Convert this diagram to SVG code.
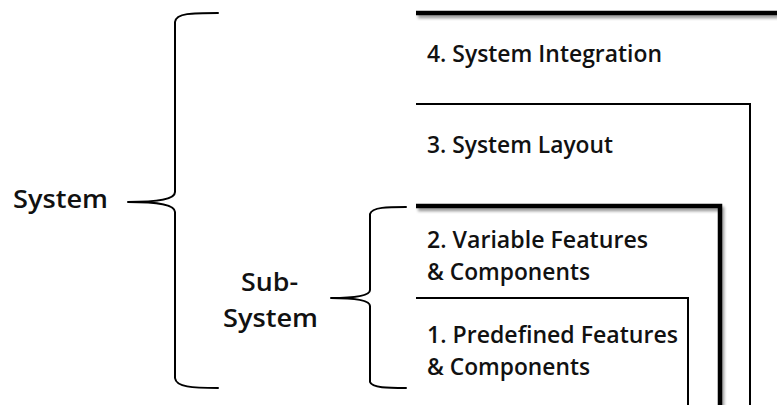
<svg xmlns="http://www.w3.org/2000/svg" width="777" height="405" viewBox="0 0 777 405">
  <defs>
    <filter id="softShadow" filterUnits="userSpaceOnUse" x="0" y="0" width="777" height="405">
      <feGaussianBlur in="SourceAlpha" stdDeviation="1.8"/>
      <feOffset dx="2" dy="3" result="blur"/>
      <feComponentTransfer><feFuncA type="linear" slope="0.4"/></feComponentTransfer>
      <feMerge><feMergeNode/><feMergeNode in="SourceGraphic"/></feMerge>
    </filter>
  </defs>
  <style>
    .lbl { font-family: "Open Sans", "Liberation Sans", sans-serif; font-weight: 600; font-size: 22.5px; fill: #111; }
    .side { font-family: "Open Sans", "Liberation Sans", sans-serif; font-weight: 600; font-size: 26px; fill: #111; }
    .thin { fill: none; stroke: #000; stroke-width: 2; }
    .thick { fill: none; stroke: #000; stroke-width: 4.5; }
    .brace { fill: none; stroke: #000; stroke-width: 2; stroke-linecap: round; stroke-linejoin: round; }
  </style>
  <rect width="777" height="405" fill="#fff"/>

  <!-- nested levels, outermost first -->
  <g id="level4">
    <path class="thick" d="M416 13 H777" filter="url(#softShadow)"/>
    <text class="lbl" x="427" y="62" textLength="235" lengthAdjust="spacingAndGlyphs">4. System Integration</text>
  </g>
  <g id="level3">
    <path class="thin" d="M416 104 H750 V405"/>
    <text class="lbl" x="427" y="153" textLength="186" lengthAdjust="spacingAndGlyphs">3. System Layout</text>
  </g>
  <g id="level2">
    <path class="thick" d="M416 206 H720 V405" filter="url(#softShadow)"/>
    <text class="lbl" x="427" y="248" textLength="221" lengthAdjust="spacingAndGlyphs">2. Variable Features</text>
    <text class="lbl" x="427" y="280" textLength="163" lengthAdjust="spacingAndGlyphs">&amp; Components</text>
  </g>
  <g id="level1">
    <path class="thin" d="M416 298 H688 V405"/>
    <text class="lbl" x="427" y="343" textLength="251" lengthAdjust="spacingAndGlyphs">1. Predefined Features</text>
    <text class="lbl" x="427" y="375" textLength="163" lengthAdjust="spacingAndGlyphs">&amp; Components</text>
  </g>

  <!-- grouping braces -->
  <g id="connectors">
    <path class="brace" d="M218 13 C192 13 176 13 175 22 V192 C175 199 160 202 128 202 C160 202 175 205 175 212 V378 C176 387 192 388 218 388"/>
    <path class="brace" d="M406 207 C388 207 372 207 370 214 V290 C370 296 355 298 331 298 C355 298 370 300 370 306 V382 C372 388 388 388 406 388"/>
  </g>

  <g id="system">
    <text class="side" x="13" y="208" textLength="95" lengthAdjust="spacingAndGlyphs">System</text>
  </g>
  <g id="subsystem">
    <text class="side" x="241" y="291" textLength="57" lengthAdjust="spacingAndGlyphs">Sub-</text>
    <text class="side" x="223" y="327" textLength="95" lengthAdjust="spacingAndGlyphs">System</text>
  </g>
</svg>
